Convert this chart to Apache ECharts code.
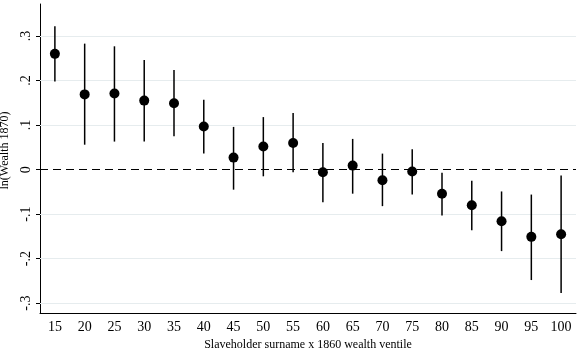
<!DOCTYPE html>
<html>
<head>
<meta charset="utf-8">
<script src="https://cdn.jsdelivr.net/npm/echarts@6/dist/echarts.min.js"></script>
<style>html,body{margin:0;padding:0;background:#fff}#c{width:578px;height:350px}</style>
</head>
<body>
<div id="c"></div>
<script>
const categories = ['15','20','25','30','35','40','45','50','55','60','65','70','75','80','85','90','95','100'];
const estimates = [0.260,0.169,0.171,0.155,0.149,0.097,0.027,0.052,0.060,-0.006,0.009,-0.024,-0.004,-0.054,-0.080,-0.116,-0.151,-0.145];
const ciLow  = [0.198,0.056,0.063,0.063,0.075,0.036,-0.045,-0.015,-0.006,-0.073,-0.054,-0.082,-0.056,-0.103,-0.136,-0.183,-0.248,-0.277];
const ciHigh = [0.322,0.283,0.277,0.246,0.224,0.157,0.096,0.118,0.127,0.060,0.069,0.036,0.046,-0.007,-0.025,-0.049,-0.056,-0.013];
const yTicks = [-0.3,-0.2,-0.1,0,0.1,0.2,0.3];
const yTickLabels = ['-.3','-.2','-.1','0','.1','.2','.3'];
const xTitle = 'Slaveholder surname x 1860 wealth ventile';
const yTitle = 'ln(Wealth 1870)';

const font = 'Liberation Serif';
const chart = echarts.init(document.getElementById('c'));
const errData = categories.map((c,i)=>[i, ciLow[i], ciHigh[i]]);
const gridLines = yTicks.filter(v=>v!==0).map(v=>({yAxis:v}));

chart.setOption({
  animation:false,
  grid:{left:40,right:2,top:4,bottom:37,containLabel:false,outerBoundsMode:'none'},
  xAxis:{
    type:'category',data:categories,boundaryGap:true,
    axisLine:{onZero:false,lineStyle:{color:'#000',width:1}},
    axisTick:{alignWithLabel:true,length:5,lineStyle:{color:'#000'}},
    axisLabel:{color:'#000',fontFamily:font,fontSize:14,margin:7,interval:0},
    name:xTitle,nameLocation:'middle',nameGap:25,
    nameTextStyle:{color:'#000',fontFamily:font,fontSize:12}
  },
  yAxis:{
    type:'value',min:-0.322,max:0.372,
    axisLine:{show:true,onZero:false,lineStyle:{color:'#000',width:1}},
    axisTick:{show:true,length:4,lineStyle:{color:'#000'},customValues:yTicks},
    axisLabel:{color:'#000',fontFamily:font,fontSize:14,rotate:90,margin:7,
      customValues:yTicks,
      formatter:v=>{const k=yTicks.findIndex(t=>Math.abs(t-v)<1e-6);return k>=0?yTickLabels[k]:'';}},
    splitLine:{show:false},
    name:yTitle,nameLocation:'middle',nameGap:18,nameRotate:90,
    nameTextStyle:{color:'#000',fontFamily:font,fontSize:12,padding:[0,0,0,16]}
  },
  series:[
    {type:'custom',data:errData,z:2,
      renderItem:(params,api)=>{
        const p1=api.coord([api.value(0),api.value(1)]);
        const p2=api.coord([api.value(0),api.value(2)]);
        return {type:'line',shape:{x1:p1[0],y1:p1[1],x2:p2[0],y2:p2[1]},style:{stroke:'#000',lineWidth:1.5}};
      },
      markLine:{silent:true,symbol:'none',label:{show:false},z:1,
        lineStyle:{color:'#e6ecee',width:1,type:'solid'},data:gridLines}
    },
    {type:'scatter',data:estimates,symbol:'circle',symbolSize:10,z:4,
      itemStyle:{color:'#000',opacity:1},
      markLine:{silent:true,symbol:'none',label:{show:false},z:3,
        lineStyle:{color:'#000',width:1,type:[8,5]},data:[{yAxis:0}]}
    }
  ]
});
</script>
</body>
</html>
